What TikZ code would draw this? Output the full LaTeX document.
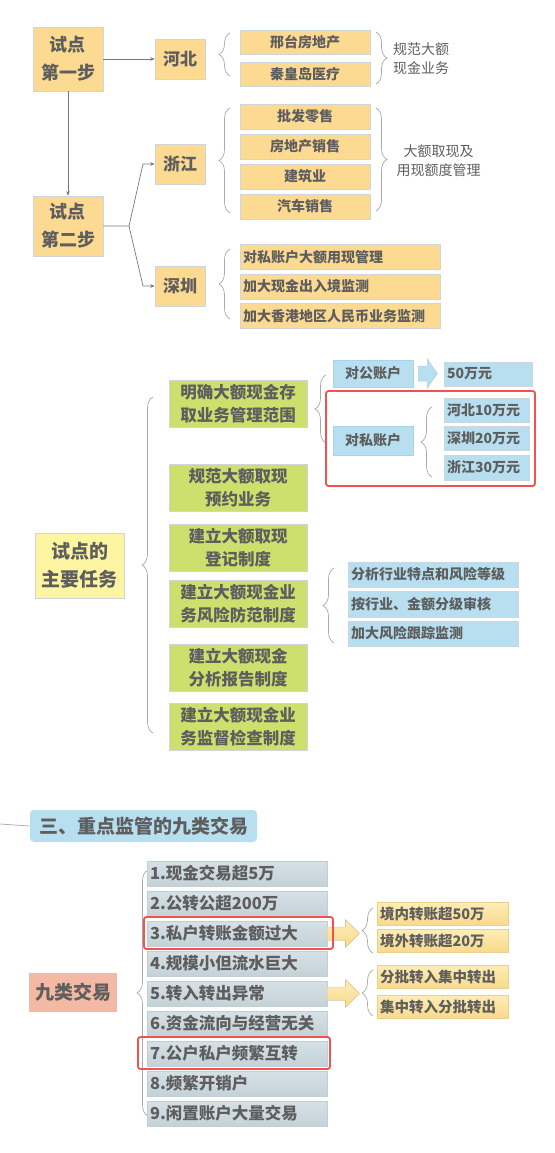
\documentclass[tikz,border=0pt]{standalone}
\usepackage{fontspec}
\setmainfont{Noto Sans CJK SC}
\usetikzlibrary{decorations.pathreplacing,arrows.meta}
\definecolor{txt}{HTML}{5E5E5E}
\definecolor{bcol}{HTML}{CDD6DB}
\definecolor{orangeF}{HTML}{FDDA91}
\definecolor{yellowF}{HTML}{FDF5A2}
\definecolor{greenF}{HTML}{CDE06D}
\definecolor{blueF}{HTML}{B7DFF0}
\definecolor{blueB}{HTML}{A9D3E6}
\definecolor{salmonF}{HTML}{F3B9A4}
\definecolor{grayT}{HTML}{D6E1E6}
\definecolor{grayM}{HTML}{CDD9DF}
\definecolor{grayB}{HTML}{C4D2D8}
\definecolor{grayBd}{HTML}{C0CED5}
\definecolor{yelT}{HTML}{FDEDB6}
\definecolor{yelB}{HTML}{F9DA8D}
\definecolor{yelBd}{HTML}{E9D08F}
\definecolor{redc}{HTML}{F2524E}
\definecolor{bracec}{HTML}{A9A9A9}
\definecolor{connc}{HTML}{777777}
\begin{document}
\begin{tikzpicture}[x=1pt,y=-1pt,
  bx/.style={draw=bcol, line width=0.6pt, inner sep=0pt, align=center, text=txt},
  lbx/.style={bx, align=left, inner xsep=3pt},
  f18/.style={font=\bfseries\fontsize{18}{28}\selectfont},
  f17/.style={font=\bfseries\fontsize{17}{20}\selectfont},
  f14/.style={font=\bfseries\fontsize{14}{17}\selectfont},
  f19/.style={font=\bfseries\fontsize{19}{28}\selectfont},
  f165/.style={font=\bfseries\fontsize{16.5}{23}\selectfont},
  lab/.style={inner sep=0pt, align=center, text=txt, font=\fontsize{14}{19}\selectfont},
  orangebox/.style={bx, fill=orangeF},
  greenbox/.style={bx, fill=greenF, minimum width=138, minimum height=47, f165},
  bluebox/.style={bx, fill=blueF, draw=blueB},
  graybox/.style={lbx, top color=grayT, middle color=grayM, bottom color=grayB, draw=grayBd, text width=174, minimum height=25, f165},
  yelbox/.style={lbx, top color=yelT, bottom color=yelB, draw=yelBd, text width=125, minimum height=23, font=\bfseries\fontsize{14.5}{17}\selectfont},
  brc/.style={decorate, decoration={brace, amplitude=11pt}, draw=bracec, line width=0.7pt},
  conn/.style={draw=connc, line width=0.7pt},
  arr/.style={conn, -{Stealth[length=4.5pt,width=3.5pt]}},
  redbox/.style={draw=redc, line width=1.8pt, rounded corners=2.5pt}
]
\useasboundingbox (0,0) rectangle (554,1153);
\fill[white] (0,0) rectangle (554,1153);

% ---------- section 1 ----------
\node[orangebox, minimum width=70, minimum height=64, f18] (s1) at (68,59) {试点\\第一步};
\node[orangebox, minimum width=70, minimum height=60, f18] (s2) at (68,226) {试点\\第二步};
\node[orangebox, minimum width=50, minimum height=40, f17] (hb) at (180,59) {河北};
\node[orangebox, minimum width=50, minimum height=40, f17] (zj) at (180,164) {浙江};
\node[orangebox, minimum width=50, minimum height=40, f17] (sz) at (180,286) {深圳};

\draw[arr] (s1.east) -- (hb.west);
\draw[arr] (s1.south) -- (s2.north);
\coordinate (j) at (129,226);
\coordinate (jz) at (143,164);
\coordinate (js) at (143,286);
\draw[arr] (s2.east) -- (j) -- (jz) -- (zj.west);
\draw[arr] (j) -- (js) -- (sz.west);

\node[orangebox, minimum width=130, minimum height=24, f14] (hb1) at (305,42) {邢台房地产};
\node[orangebox, minimum width=130, minimum height=24, f14] (hb2) at (305,74) {秦皇岛医疗};
\node[orangebox, minimum width=130, minimum height=25, f14] (zj1) at (305,116.5) {批发零售};
\node[orangebox, minimum width=130, minimum height=25, f14] (zj2) at (305,146.5) {房地产销售};
\node[orangebox, minimum width=130, minimum height=25, f14] (zj3) at (305,176.5) {建筑业};
\node[orangebox, minimum width=130, minimum height=25, f14] (zj4) at (305,206.5) {汽车销售};
\node[orangebox, lbx, text width=194, minimum height=25, f14] (sz1) at (340,257) {对私账户大额用现管理};
\node[orangebox, lbx, text width=194, minimum height=25, f14] (sz2) at (340,286.5) {加大现金出入境监测};
\node[orangebox, lbx, text width=194, minimum height=25, f14] (sz3) at (340,316) {加大香港地区人民币业务监测};

\draw[brc] (230,76) -- (230,33);
\draw[brc] (230,213) -- (230,108);
\draw[brc] (230,319) -- (230,249);
\draw[brc] (376,32) -- (376,84);
\draw[brc] (376,108) -- (376,211);

\node[lab] (lb1) at (421,59) {规范大额\\现金业务};
\node[lab] (lb2) at (438.5,161) {大额取现及\\用现额度管理};

% ---------- section 2 ----------
\node[bx, fill=yellowF, minimum width=89, minimum height=65, f19] (task) at (79.5,565.5) {试点的\\主要任务};
\draw[brc] (153,733) -- (153,397);

\node[greenbox] (g1) at (238,403.5) {明确大额现金存\\取业务管理范围};
\node[greenbox] (g2) at (238,487.5) {规范大额取现\\预约业务};
\node[greenbox] (g3) at (238,547.5) {建立大额取现\\登记制度};
\node[greenbox] (g4) at (238,603.5) {建立大额现金业\\务风险防范制度};
\node[greenbox] (g5) at (238,667.5) {建立大额现金\\分析报告制度};
\node[greenbox] (g6) at (238,727) {建立大额现金业\\务监督检查制度};

\draw[brc] (326,443) -- (326,375);
\node[bluebox, minimum width=80, minimum height=27, f14] (dg) at (373,373.5) {对公账户};
\node[bluebox, lbx, text width=82, minimum height=24, f14] (w50) at (488,374) {50万元};
\fill[blueF, draw=blueB, line width=0.5pt] ([xshift=5pt]dg.east) ++(0,-7.5) -- ++(9,0) -- ++(0,-7) -- ++(10,14.5) -- ++(-10,14.5) -- ++(0,-7) -- ++(-9,0) -- cycle;

\node[bluebox, minimum width=80, minimum height=29, f14] (ds) at (373,440.5) {对私账户};
\draw[brc] (432,477) -- (432,407);
\node[bluebox, lbx, text width=79, minimum height=24, f14] (p1) at (486.5,410) {河北10万元};
\node[bluebox, lbx, text width=79, minimum height=24, f14] (p2) at (486.5,438.5) {深圳20万元};
\node[bluebox, lbx, text width=79, minimum height=25, f14] (p3) at (486.5,467.5) {浙江30万元};
\draw[redbox] (326,391) rectangle (535,486);

\draw[brc] (334,643) -- (334,568);
\node[bluebox, lbx, text width=164, minimum height=25, f14] (r1) at (433,574.5) {分析行业特点和风险等级};
\node[bluebox, lbx, text width=164, minimum height=26, f14] (r2) at (433,604) {按行业、金额分级审核};
\node[bluebox, lbx, text width=164, minimum height=25, f14] (r3) at (433,633.5) {加大风险跟踪监测};

% ---------- section 3 ----------
\node[bx, draw=none, fill=blueF, rounded corners=4pt, minimum width=227, minimum height=32, f19] (title) at (143.5,826) {三、重点监管的九类交易};
\coordinate (tl) at (0,824);
\draw[conn, draw=bracec] (tl) -- (title.west);

\node[bx, draw=none, fill=salmonF, minimum width=88, minimum height=39, f19] (nine) at (73,992.5) {九类交易};
\draw[brc] (148,1116) -- (148,870);

\node[graybox] (n1) at (237,873.5) {1.现金交易超5万};
\node[graybox] (n2) at (237,903.5) {2.公转公超200万};
\node[graybox] (n3) at (237,933.5) {3.私户转账金额过大};
\node[graybox] (n4) at (237,963.5) {4.规模小但流水巨大};
\node[graybox] (n5) at (237,993.5) {5.转入转出异常};
\node[graybox] (n6) at (237,1023.5) {6.资金流向与经营无关};
\node[graybox] (n7) at (237,1053.5) {7.公户私户频繁互转};
\node[graybox] (n8) at (237,1083.5) {8.频繁开销户};
\node[graybox] (n9) at (237,1113.5) {9.闲置账户大量交易};

\fill[top color=yelT, bottom color=yelB, draw=yelBd, line width=0.5pt] (n3.east) ++(0,-6.5) -- ++(18,0) -- ++(0,-7.5) -- ++(14,14) -- ++(-14,14) -- ++(0,-7.5) -- ++(-18,0) -- cycle;
\fill[top color=yelT, bottom color=yelB, draw=yelBd, line width=0.5pt] (n5.east) ++(0,-6.5) -- ++(18,0) -- ++(0,-7.5) -- ++(14,14) -- ++(-14,14) -- ++(0,-7.5) -- ++(-18,0) -- cycle;

\draw[redbox] (144,917) rectangle (333,949);
\draw[redbox] (138,1037) rectangle (330,1069);

\draw[brc] (373,953) -- (373,908);
\draw[brc] (373,1016) -- (373,970);
\node[yelbox] (y1) at (442.5,913.5) {境内转账超50万};
\node[yelbox] (y2) at (442.5,940.5) {境外转账超20万};
\node[yelbox] (z1) at (442.5,976.5) {分批转入集中转出};
\node[yelbox] (z2) at (442.5,1006.5) {集中转入分批转出};
\end{tikzpicture}
\end{document}
